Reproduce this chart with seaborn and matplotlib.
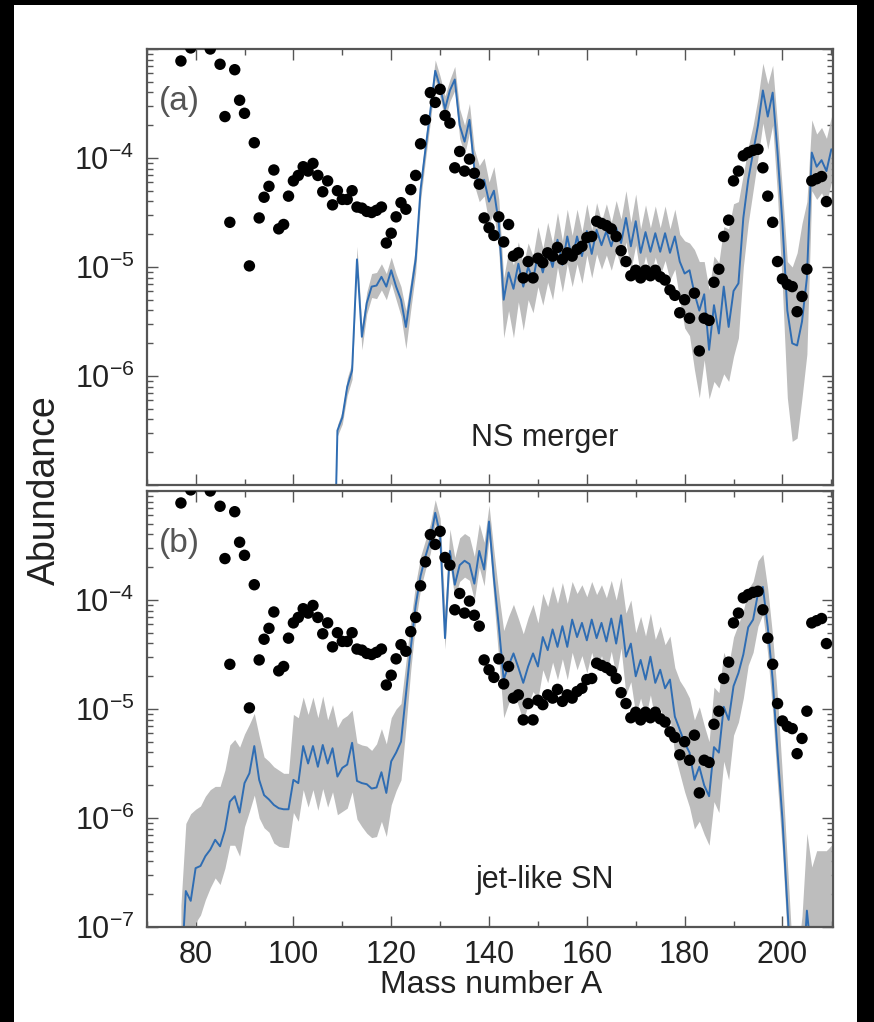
#!/usr/bin/env python3
"""
Abundance pattern vs mass number: NS merger and jet-like SN
"""

import numpy as np
import matplotlib
matplotlib.use('Agg')
import matplotlib.pyplot as plt
import seaborn as sns
from matplotlib.patches import Rectangle
from matplotlib.ticker import LogLocator, MultipleLocator, NullFormatter, FixedLocator, FixedFormatter

sns.set_style("ticks")
plt.rcParams['font.family'] = ['Liberation Sans', 'DejaVu Sans']
plt.rcParams['mathtext.fontset'] = 'custom'
plt.rcParams['mathtext.rm'] = 'Liberation Sans'
plt.rcParams['mathtext.it'] = 'Liberation Sans'

# --- solar r-process points (log10 abundance) ---
solar_A = [77, 79, 83, 85, 86, 87, 88, 89, 90, 91, 92, 93, 94, 95, 96, 97, 98, 99,
           100, 101, 102, 103, 104, 105, 106, 107, 108, 109, 110, 111, 112, 113, 114,
           115, 116, 117, 118, 119, 120, 121, 122, 123, 124, 125, 126, 127, 128, 129,
           130, 131, 132, 133, 134, 135, 136, 137, 138, 139, 140, 141, 142, 143, 144,
           145, 146, 147, 148, 149, 150, 151, 152, 153, 154, 155, 156, 157, 158, 159,
           160, 161, 162, 163, 164, 165, 166, 167, 168, 169, 170, 171, 172, 173, 174,
           175, 176, 177, 178, 179, 180, 181, 182, 183, 184, 185, 186, 187, 188, 189,
           190, 191, 192, 193, 194, 195, 196, 197, 198, 199, 200, 201, 202, 203, 204,
           205, 206, 207, 208, 209]
solar_log = [-3.11, -2.99, -3.00, -3.14, -3.62, -4.59, -3.19, -3.47, -3.59, -4.99, -3.86,
             -4.55, -4.36, -4.26, -4.11, -4.65, -4.61, -4.35,
             -4.21, -4.16, -4.08, -4.12, -4.05, -4.16, -4.31, -4.21, -4.43, -4.30, -4.38,
             -4.38, -4.30, -4.45, -4.46,
             -4.49, -4.50, -4.48, -4.45, -4.78, -4.69, -4.54, -4.41, -4.47, -4.29, -4.16,
             -3.87, -3.65, -3.40, -3.49,
             -3.37, -3.61, -3.68, -4.09, -3.94, -4.12, -4.01, -4.14, -4.24, -4.55, -4.64,
             -4.71, -4.54, -4.77, -4.61,
             -4.90, -4.87, -5.10, -4.95, -5.10, -4.92, -4.96, -4.87, -4.90, -4.82, -4.93,
             -4.87, -4.90, -4.84, -4.81,
             -4.73, -4.72, -4.58, -4.60, -4.62, -4.65, -4.72, -4.85, -4.95, -5.08, -5.03,
             -5.10, -5.03, -5.08, -5.03,
             -5.09, -5.12, -5.21, -5.26, -5.42, -5.30, -5.47, -5.24, -5.77, -5.47, -5.49,
             -5.14, -5.02, -4.72, -4.57,
             -4.21, -4.12, -3.98, -3.95, -3.93, -3.92, -4.09, -4.35, -4.59, -4.95, -5.11,
             -5.16, -5.18, -5.41, -5.27,
             -5.02, -4.21, -4.19, -4.17, -4.40]

# --- (a) NS merger model: median and spread (dex) ---
ns_A = list(range(108, 211))
ns_mid = [-8.50, -6.50, -6.38, -6.10, -5.95, -4.93, -5.64, -5.33, -5.18, -5.17,
          -5.09, -5.18, -5.03, -5.18, -5.30, -5.55, -5.24, -4.93, -4.29, -3.92,
          -3.57, -3.20, -3.35, -3.55, -3.38, -3.28, -3.70, -3.85, -3.65, -4.10,
          -4.25, -4.20, -4.40, -4.30, -4.60, -5.30, -5.05, -5.20, -4.97, -5.18,
          -5.00, -5.12, -4.88, -5.05, -4.84, -5.00, -4.75, -4.98, -4.72, -4.93,
          -4.72, -4.90, -4.67, -4.88, -4.66, -4.80, -4.67, -4.81, -4.64, -4.78,
          -4.55, -4.81, -4.58, -4.87, -4.68, -4.86, -4.69, -4.86, -4.69, -4.87,
          -4.72, -4.95, -5.06, -5.03, -5.24, -5.40, -5.25, -5.76, -5.35, -5.61,
          -5.18, -5.55, -5.22, -5.15, -4.55, -4.20, -3.95, -3.70, -3.38, -3.62,
          -3.40, -3.95, -4.60, -5.40, -5.70, -5.72, -5.50, -5.10, -3.95, -4.08,
          -4.02, -4.12, -3.92]
ns_lo = [0.05, 0.05, 0.06, 0.08, 0.08, 0.06, 0.12, 0.10, 0.10, 0.12,
         0.12, 0.12, 0.12, 0.12, 0.15, 0.20, 0.15, 0.12, 0.10, 0.10,
         0.10, 0.08, 0.10, 0.10, 0.10, 0.10, 0.12, 0.12, 0.12, 0.15,
         0.15, 0.15, 0.20, 0.20, 0.25, 0.35, 0.35, 0.45, 0.35, 0.40,
         0.30, 0.30, 0.30, 0.30, 0.30, 0.30, 0.25, 0.25, 0.25, 0.25,
         0.25, 0.25, 0.22, 0.22, 0.22, 0.22, 0.22, 0.22, 0.22, 0.22,
         0.22, 0.22, 0.22, 0.22, 0.22, 0.22, 0.22, 0.22, 0.25, 0.25,
         0.30, 0.35, 0.50, 0.60, 0.70, 0.80, 0.60, 0.45, 0.70, 0.50,
         0.80, 0.50, 0.60, 0.50, 0.45, 0.40, 0.35, 0.30, 0.30, 0.30,
         0.30, 0.40, 0.60, 0.80, 0.90, 0.85, 0.70, 0.70, 0.35, 0.30,
         0.30, 0.30, 0.30]
ns_hi = [0.05, 0.05, 0.06, 0.08, 0.08, 0.12, 0.10, 0.10, 0.12, 0.12,
         0.12, 0.12, 0.12, 0.12, 0.12, 0.15, 0.12, 0.12, 0.10, 0.10,
         0.10, 0.10, 0.10, 0.12, 0.10, 0.12, 0.15, 0.15, 0.15, 0.18,
         0.18, 0.20, 0.18, 0.22, 0.22, 0.20, 0.20, 0.22, 0.20, 0.20,
         0.22, 0.22, 0.25, 0.22, 0.25, 0.22, 0.25, 0.22, 0.25, 0.22,
         0.25, 0.22, 0.25, 0.22, 0.25, 0.22, 0.25, 0.22, 0.25, 0.22,
         0.25, 0.22, 0.25, 0.22, 0.25, 0.22, 0.25, 0.22, 0.25, 0.22,
         0.25, 0.25, 0.30, 0.25, 0.40, 0.45, 0.30, 0.55, 0.45, 0.65,
         0.55, 0.90, 0.80, 0.75, 0.40, 0.30, 0.25, 0.25, 0.25, 0.30,
         0.25, 0.25, 0.30, 0.45, 0.70, 0.85, 0.90, 0.70, 0.30, 0.30,
         0.30, 0.30, 0.30]

# --- (b) jet-like SN model ---
jet_A = list(range(77, 211))
jet_mid = [-7.50, -6.67, -6.76, -6.46, -6.44, -6.35, -6.29, -6.20, -6.26, -6.11,
           -5.85, -5.80, -5.95, -5.68, -5.59, -5.34, -5.65, -5.79, -5.83, -5.88,
           -5.91, -5.92, -5.92, -5.65, -5.68, -5.34, -5.50, -5.34, -5.53, -5.33,
           -5.50, -5.36, -5.62, -5.54, -5.51, -5.31, -5.66, -5.68, -5.69, -5.73,
           -5.72, -5.58, -5.77, -5.48, -5.40, -5.30, -4.87, -4.44, -4.05, -3.78,
           -3.60, -3.45, -3.20, -3.40, -4.35, -3.55, -3.86, -3.68, -3.64, -3.67,
           -3.85, -3.55, -3.72, -3.28, -3.80, -4.24, -4.73, -4.60, -4.49, -4.62,
           -4.76, -4.61, -4.49, -4.61, -4.34, -4.46, -4.27, -4.43, -4.24, -4.43,
           -4.18, -4.34, -4.21, -4.37, -4.18, -4.35, -4.21, -4.38, -4.17, -4.40,
           -4.14, -4.52, -4.40, -4.70, -4.55, -4.73, -4.52, -4.76, -4.64, -4.81,
           -4.73, -5.07, -5.19, -5.31, -5.40, -5.65, -5.53, -5.70, -5.80, -5.35,
           -5.40, -4.98, -5.10, -4.79, -4.67, -4.50, -4.25, -4.18, -3.94, -3.88,
           -4.25, -4.73, -5.40, -6.01, -6.80, -7.60, -8.50, -7.60, -6.85, -7.30,
           -7.60, -7.60, -7.60, -7.60]
jet_lo = [0.50, 0.55, 0.50, 0.50, 0.45, 0.40, 0.35, 0.35, 0.35, 0.35,
          0.40, 0.45, 0.40, 0.40, 0.35, 0.45, 0.35, 0.30, 0.30, 0.35,
          0.35, 0.35, 0.35, 0.30, 0.35, 0.40, 0.40, 0.40, 0.40, 0.40,
          0.40, 0.40, 0.35, 0.40, 0.40, 0.45, 0.35, 0.40, 0.45, 0.45,
          0.45, 0.45, 0.40, 0.40, 0.35, 0.35, 0.30, 0.20, 0.15, 0.12,
          0.12, 0.12, 0.10, 0.12, 0.10, 0.12, 0.12, 0.15, 0.15, 0.15,
          0.15, 0.15, 0.15, 0.15, 0.20, 0.30, 0.35, 0.35, 0.35, 0.35,
          0.35, 0.35, 0.35, 0.30, 0.30, 0.30, 0.30, 0.30, 0.30, 0.30,
          0.30, 0.30, 0.30, 0.30, 0.30, 0.30, 0.30, 0.30, 0.30, 0.30,
          0.30, 0.35, 0.35, 0.35, 0.35, 0.35, 0.35, 0.35, 0.35, 0.35,
          0.35, 0.35, 0.40, 0.45, 0.50, 0.45, 0.50, 0.45, 0.45, 0.50,
          0.55, 0.50, 0.55, 0.45, 0.45, 0.40, 0.35, 0.30, 0.30, 0.25,
          0.25, 0.30, 0.30, 0.30, 0.30, 0.30, 0.30, 0.30, 0.30, 0.30,
          0.30, 0.30, 0.30, 0.30]
jet_hi = [0.70, 0.62, 0.80, 0.54, 0.55, 0.55, 0.55, 0.49, 0.55, 0.55,
          0.52, 0.52, 0.60, 0.45, 0.45, 0.30, 0.40, 0.35, 0.35, 0.35,
          0.35, 0.33, 0.33, 0.60, 0.60, 0.45, 0.45, 0.45, 0.45, 0.45,
          0.40, 0.40, 0.45, 0.45, 0.45, 0.30, 0.35, 0.35, 0.35, 0.35,
          0.40, 0.40, 0.45, 0.40, 0.40, 0.35, 0.30, 0.25, 0.20, 0.18,
          0.15, 0.15, 0.12, 0.15, 0.25, 0.20, 0.25, 0.25, 0.25, 0.25,
          0.25, 0.25, 0.25, 0.15, 0.25, 0.30, 0.45, 0.45, 0.45, 0.45,
          0.45, 0.45, 0.45, 0.40, 0.40, 0.40, 0.40, 0.40, 0.40, 0.40,
          0.35, 0.40, 0.35, 0.40, 0.35, 0.40, 0.35, 0.40, 0.35, 0.40,
          0.35, 0.40, 0.40, 0.40, 0.40, 0.40, 0.40, 0.40, 0.40, 0.40,
          0.40, 0.45, 0.45, 0.50, 0.50, 0.55, 0.55, 0.55, 0.50, 0.55,
          0.55, 0.50, 0.50, 0.45, 0.45, 0.40, 0.35, 0.35, 0.30, 0.30,
          0.35, 0.40, 0.50, 0.40, 0.40, 0.40, 1.20, 0.70, 0.71, 0.85,
          1.30, 1.30, 1.30, 1.35]

panel_tags = ['(a)', '(b)']
panel_names = ['NS merger', 'jet-like SN']
x_ticks = [80, 100, 120, 140, 160, 180, 200]

LINE_BLUE = '#2f6db3'
BAND_GRAY = '#bdbdbd'
FRAME = '#555555'


def draw_panel(ax, A, mid, lo, hi, tag, name, show_bottom_label):
    A = np.asarray(A)
    mid = np.asarray(mid)
    ax.fill_between(A, 10 ** (mid - np.asarray(lo)), 10 ** (mid + np.asarray(hi)),
                    color=BAND_GRAY, lw=0, zorder=1)
    sns.lineplot(x=A, y=10 ** mid, ax=ax, color=LINE_BLUE, lw=1.4,
                 estimator=None, sort=False, zorder=2)
    sns.scatterplot(x=solar_A, y=10 ** np.asarray(solar_log), ax=ax, color='black',
                    s=68, edgecolor='none', linewidth=0, zorder=3)

    ax.set_yscale('log')
    ax.set_xlim(70, 210.4)
    ax.set_ylim(1e-7, 1e-3)

    yt = [1e-7, 1e-6, 1e-5, 1e-4, 1e-3]
    ylabels = [r'$10^{-7}$' if show_bottom_label else '',
               r'$10^{-6}$', r'$10^{-5}$', r'$10^{-4}$', '']
    ax.yaxis.set_major_locator(FixedLocator(yt))
    ax.yaxis.set_major_formatter(FixedFormatter(ylabels))
    ax.yaxis.set_minor_locator(LogLocator(base=10, subs=np.arange(2, 10), numticks=20))
    ax.yaxis.set_minor_formatter(NullFormatter())

    ax.xaxis.set_major_locator(FixedLocator(x_ticks))
    ax.xaxis.set_minor_locator(MultipleLocator(10))
    if not show_bottom_label:
        ax.set_xticklabels([])

    ax.tick_params(which='both', direction='in', top=True, right=True,
                   color=FRAME, width=1.0, labelsize=22, labelcolor='#222222')
    ax.tick_params(which='major', length=8, pad=9)
    ax.tick_params(which='minor', length=4)
    for sp in ax.spines.values():
        sp.set_color(FRAME)
        sp.set_linewidth(1.6)

    ax.set_xlabel('')
    ax.set_ylabel('')
    ax.text(0.018, 0.88, tag, transform=ax.transAxes, fontsize=24,
            color='#555555', ha='left', va='center')
    ax.text(0.58, 0.108, name, transform=ax.transAxes, fontsize=22,
            color='#222222', ha='center', va='center')


fig = plt.figure(figsize=(8.74, 10.22), dpi=100)
fig.patch.set_facecolor('black')
fig.add_artist(Rectangle((14 / 874, 0), (857 - 14) / 874, (1022 - 5) / 1022,
                         transform=fig.transFigure, facecolor='white',
                         edgecolor='none', zorder=-10))

left = 146.7 / 874
width = (833.3 - 146.7) / 874
height = 436 / 1022
ax_a = fig.add_axes([left, 1 - 485 / 1022, width, height])
ax_b = fig.add_axes([left, 1 - 927 / 1022, width, height])

draw_panel(ax_a, ns_A, ns_mid, ns_lo, ns_hi, panel_tags[0], panel_names[0], False)
draw_panel(ax_b, jet_A, jet_mid, jet_lo, jet_hi, panel_tags[1], panel_names[1], True)

fig.text(45 / 874, 1 - 490 / 1022, 'Abundance', rotation=90, fontsize=27,
         color='#222222', ha='center', va='center')
fig.text(491 / 874, 1 - 985 / 1022, 'Mass number A', fontsize=23,
         color='#222222', ha='center', va='center')

fig.savefig('out.png', dpi=100, facecolor=fig.get_facecolor())
plt.close(fig)
